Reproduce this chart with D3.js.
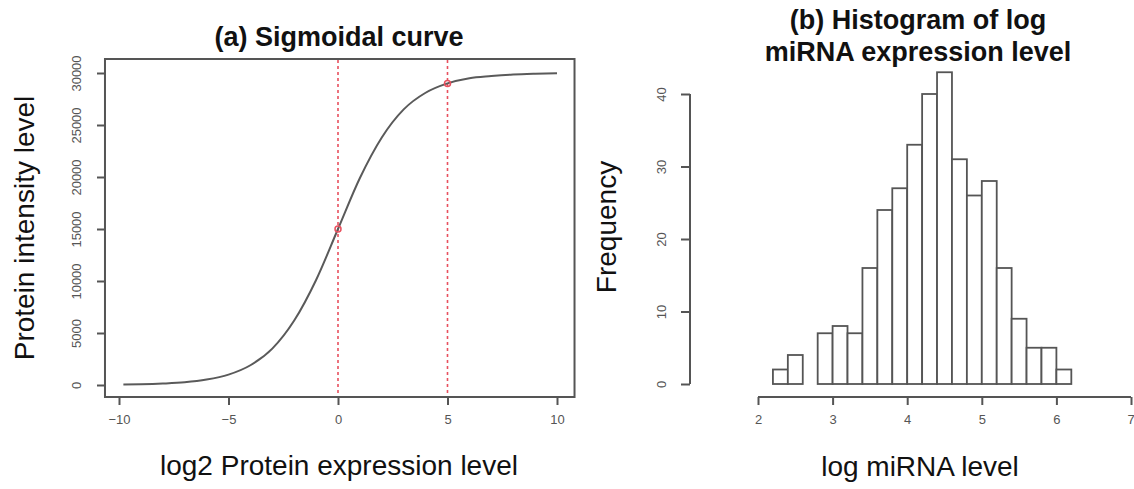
<!DOCTYPE html>
<html>
<head>
<meta charset="utf-8">
<script src="https://cdn.jsdelivr.net/npm/d3@7"></script>
<style>
  html, body { margin: 0; padding: 0; background: #fff; }
  svg { display: block; font-family: "Liberation Sans", Arial, sans-serif; }
</style>
</head>
<body>
<svg id="chart" width="1134" height="489"></svg>
<script>
// ---- Panel (a): sigmoidal curve ----
const curveX = [-9.8, -9, -8, -7, -6, -5, -4, -3, -2, -1, 0, 1, 2, 3, 4, 5, 6, 7, 8, 9, 10];
const curveY = [40, 70, 140, 260, 520, 1000, 1900, 3500, 6200, 10100, 15000, 19900, 23800, 26500, 28100, 29000, 29500, 29700, 29850, 29930, 29980];
const markerX = [0, 5];
const markerY = [15000, 29000];
const xTicksA = [-10, -5, 0, 5, 10];
const yTicksA = [0, 5000, 10000, 15000, 20000, 25000, 30000];

// ---- Panel (b): histogram ----
const binEdges = [2.2, 2.4, 2.6, 2.8, 3.0, 3.2, 3.4, 3.6, 3.8, 4.0, 4.2, 4.4, 4.6, 4.8, 5.0, 5.2, 5.4, 5.6, 5.8, 6.0, 6.2];
const binCounts = [2, 4, 0, 7, 8, 7, 16, 24, 27, 33, 40, 43, 31, 26, 28, 16, 9, 5, 5, 2];
const xTicksB = [2, 3, 4, 5, 6, 7];
const yTicksB = [0, 10, 20, 30, 40];

const svg = d3.select("#chart");
const axisCol = "#555";
const tickFont = 13;
const FONT = "'Liberation Sans', Arial, sans-serif";

// ================= Panel (a) =================
const xa = d3.scaleLinear().domain([-10, 10]).range([119, 557]);
const ya = d3.scaleLinear().domain([0, 30000]).range([385, 73]);
const boxA = { x0: xa(-10.64), x1: xa(10.8), y0: 59, y1: 397 };

const gA = svg.append("g");
gA.append("rect")
  .attr("x", boxA.x0).attr("y", boxA.y0)
  .attr("width", boxA.x1 - boxA.x0).attr("height", boxA.y1 - boxA.y0)
  .attr("fill", "none").attr("stroke", axisCol).attr("stroke-width", 2);

// x axis
const xAxisA = gA.append("g").attr("transform", `translate(0,${boxA.y1})`)
  .call(d3.axisBottom(xa).tickValues(xTicksA).tickSize(8).tickPadding(10).tickFormat(d3.format("d")));
xAxisA.select(".domain").remove();
xAxisA.selectAll("line").attr("stroke", axisCol).attr("stroke-width", 2);
xAxisA.selectAll("text").attr("fill", axisCol).style("font-size", tickFont + "px").style("font-family", FONT);

// y axis
const yAxisA = gA.append("g").attr("transform", `translate(${boxA.x0},0)`)
  .call(d3.axisLeft(ya).tickValues(yTicksA).tickSize(8).tickPadding(0).tickFormat(d3.format("d")));
yAxisA.select(".domain").remove();
yAxisA.selectAll("line").attr("stroke", axisCol).attr("stroke-width", 2);
yAxisA.selectAll("text")
  .attr("fill", axisCol).style("font-size", tickFont + "px").style("font-family", FONT)
  .attr("x", 0).attr("dy", null)
  .attr("text-anchor", "middle")
  .attr("transform", "translate(-27,0) rotate(-90)")
  .attr("dominant-baseline", "middle");

// red dashed reference lines
gA.selectAll("line.ref").data(markerX).enter().append("line")
  .attr("class", "ref")
  .attr("x1", d => xa(d)).attr("x2", d => xa(d))
  .attr("y1", boxA.y0 + 1).attr("y2", boxA.y1 - 1)
  .attr("stroke", "#e8505e").attr("stroke-width", 1.6)
  .attr("stroke-dasharray", "3,3");

// curve
const curvePts = curveX.map((x, i) => [x, curveY[i]]);
gA.append("path")
  .datum(curvePts)
  .attr("fill", "none").attr("stroke", "#5a5a5a").attr("stroke-width", 2)
  .attr("d", d3.line().x(d => xa(d[0])).y(d => ya(d[1])).curve(d3.curveMonotoneX));

// red points
gA.selectAll("circle.pt").data(markerX.map((x, i) => [x, markerY[i]])).enter().append("circle")
  .attr("class", "pt")
  .attr("cx", d => xa(d[0])).attr("cy", d => ya(d[1])).attr("r", 3)
  .attr("fill", "none").attr("stroke", "#e8505e").attr("stroke-width", 1.5);

// titles
gA.append("text").attr("x", 339).attr("y", 46).attr("text-anchor", "middle")
  .style("font-size", "27px").style("font-weight", "bold").attr("fill", "#111")
  .text("(a) Sigmoidal curve");
gA.append("text").attr("x", 339).attr("y", 475).attr("text-anchor", "middle")
  .style("font-size", "28px").attr("fill", "#111")
  .text("log2 Protein expression level");
gA.append("text").attr("transform", "translate(34,228) rotate(-90)").attr("text-anchor", "middle")
  .style("font-size", "28px").attr("fill", "#111")
  .text("Protein intensity level");

// ================= Panel (b) =================
const xb = d3.scaleLinear().domain([2, 7]).range([758, 1131]);
const yb = d3.scaleLinear().domain([0, 40]).range([384, 94]);
const gB = svg.append("g");

// bars
const bins = binCounts.map((c, i) => ({ x0: binEdges[i], x1: binEdges[i + 1], n: c }));
gB.selectAll("rect.bar").data(bins).enter().append("rect")
  .attr("class", "bar")
  .attr("x", d => xb(d.x0)).attr("y", d => yb(d.n))
  .attr("width", d => xb(d.x1) - xb(d.x0))
  .attr("height", d => yb(0) - yb(d.n))
  .attr("fill", "#fff").attr("stroke", "#555").attr("stroke-width", 1.8);

// x axis
const xAxisB = gB.append("g").attr("transform", "translate(0,397)")
  .call(d3.axisBottom(xb).tickValues(xTicksB).tickSize(8).tickPadding(10).tickSizeOuter(0).tickFormat(d3.format("d")));
xAxisB.select(".domain").attr("stroke", axisCol).attr("stroke-width", 2)
  .attr("d", `M${xb(2)},0H${xb(7)}`);
xAxisB.selectAll("line").attr("stroke", axisCol).attr("stroke-width", 2);
xAxisB.selectAll("text").attr("fill", axisCol).style("font-size", tickFont + "px").style("font-family", FONT);
// last label sits at the right edge, keep it inside the frame
xAxisB.selectAll(".tick").filter(d => d === 7).select("text").attr("text-anchor", "end").attr("dx", "0.25em");

// y axis
const yAxisB = gB.append("g").attr("transform", "translate(690,0)")
  .call(d3.axisLeft(yb).tickValues(yTicksB).tickSize(9).tickPadding(0).tickSizeOuter(0).tickFormat(d3.format("d")));
yAxisB.select(".domain").attr("stroke", axisCol).attr("stroke-width", 2)
  .attr("d", `M0,${yb(0)}V${yb(40)}`);
yAxisB.selectAll("line").attr("stroke", axisCol).attr("stroke-width", 2);
yAxisB.selectAll("text")
  .attr("fill", axisCol).style("font-size", tickFont + "px").style("font-family", FONT)
  .attr("x", 0).attr("dy", null)
  .attr("text-anchor", "middle")
  .attr("transform", "translate(-27,0) rotate(-90)")
  .attr("dominant-baseline", "middle");

// titles
const tB = gB.append("text").attr("text-anchor", "middle")
  .style("font-size", "27px").style("font-weight", "bold").attr("fill", "#111");
tB.append("tspan").attr("x", 918).attr("y", 29).text("(b) Histogram of log");
tB.append("tspan").attr("x", 918).attr("y", 61).text("miRNA expression level");
gB.append("text").attr("x", 920).attr("y", 476).attr("text-anchor", "middle")
  .style("font-size", "28px").attr("fill", "#111")
  .text("log miRNA level");
gB.append("text").attr("transform", "translate(616,227) rotate(-90)").attr("text-anchor", "middle")
  .style("font-size", "28px").attr("fill", "#111")
  .text("Frequency");
</script>
</body>
</html>
